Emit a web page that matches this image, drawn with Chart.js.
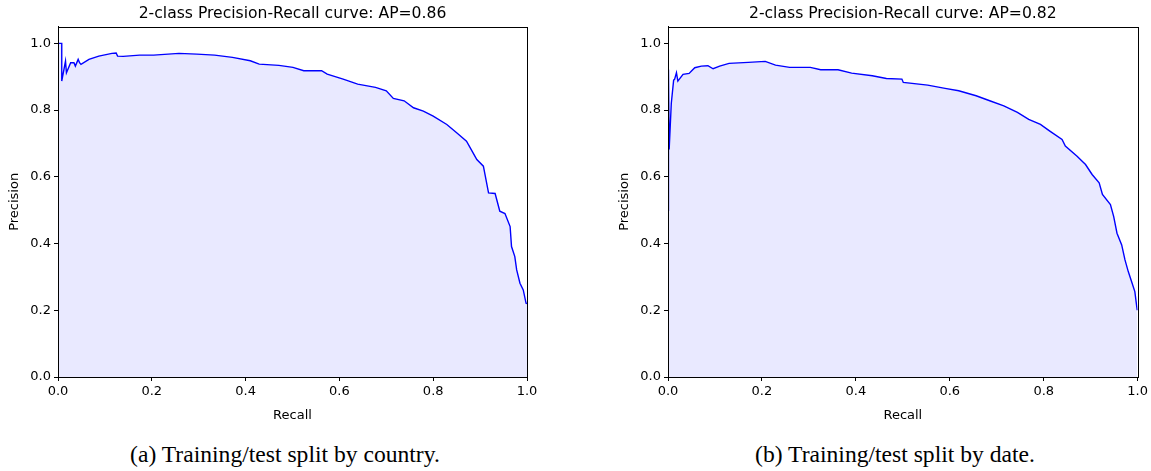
<!DOCTYPE html>
<html>
<head>
<meta charset="utf-8">
<script src="https://cdn.jsdelivr.net/npm/chart.js@4"></script>
<style>
  body { margin: 0; background: #fff; width: 1151px; height: 471px; overflow: hidden; position: relative; }
  canvas { position: absolute; top: 0; }
  .caption { position: absolute; top: 443px; width: 600px; font-family: "Liberation Serif", serif; font-size: 23.6px; line-height: 1; color: #000; text-align: center; white-space: nowrap; }
</style>
</head>
<body>
<canvas id="countryChart" width="575" height="425" style="left:0px"></canvas>
<canvas id="dateChart" width="541" height="425" style="left:610px"></canvas>
<div class="caption" style="left:-15px">(a) Training/test split by country.</div>
<div class="caption" style="left:595px">(b) Training/test split by date.</div>
<script>
// split by country, AP=0.86
const countryRecall = [0, 0.008, 0.008, 0.016, 0.018, 0.027, 0.034, 0.037, 0.043, 0.046, 0.049, 0.066, 0.087, 0.115, 0.124, 0.127, 0.139, 0.174, 0.204, 0.258, 0.296, 0.334, 0.372, 0.41, 0.429, 0.471, 0.501, 0.524, 0.562, 0.574, 0.608, 0.639, 0.677, 0.7, 0.715, 0.738, 0.758, 0.779, 0.8, 0.829, 0.85, 0.871, 0.885, 0.893, 0.907, 0.918, 0.932, 0.942, 0.953, 0.964, 0.967, 0.974, 0.978, 0.985, 0.992, 0.998, 1.0];
const countryPrecision = [1.0, 1.0, 0.887, 0.947, 0.912, 0.942, 0.942, 0.932, 0.952, 0.942, 0.937, 0.952, 0.962, 0.97, 0.971, 0.962, 0.961, 0.965, 0.965, 0.97, 0.968, 0.965, 0.958, 0.948, 0.938, 0.934, 0.928, 0.918, 0.918, 0.908, 0.893, 0.878, 0.868, 0.858, 0.835, 0.828, 0.807, 0.797, 0.782, 0.757, 0.732, 0.707, 0.672, 0.652, 0.632, 0.552, 0.55, 0.497, 0.49, 0.451, 0.391, 0.361, 0.321, 0.281, 0.261, 0.221, 0.22];

// split by date, AP=0.82
const dateRecall = [0, 0.001, 0.0025, 0.007, 0.012, 0.014, 0.018, 0.021, 0.032, 0.045, 0.05, 0.057, 0.071, 0.085, 0.096, 0.11, 0.13, 0.171, 0.207, 0.229, 0.259, 0.303, 0.325, 0.362, 0.391, 0.435, 0.465, 0.498, 0.501, 0.553, 0.59, 0.619, 0.656, 0.685, 0.715, 0.744, 0.768, 0.793, 0.813, 0.839, 0.846, 0.871, 0.889, 0.903, 0.918, 0.925, 0.942, 0.949, 0.956, 0.966, 0.973, 0.98, 0.987, 0.994, 0.999];
const datePrecision = [0.5, 0.922, 0.682, 0.82, 0.89, 0.892, 0.912, 0.887, 0.907, 0.91, 0.917, 0.927, 0.932, 0.933, 0.924, 0.932, 0.94, 0.943, 0.946, 0.935, 0.928, 0.928, 0.921, 0.921, 0.911, 0.903, 0.895, 0.893, 0.883, 0.875, 0.865, 0.858, 0.843, 0.828, 0.813, 0.793, 0.772, 0.757, 0.737, 0.712, 0.692, 0.662, 0.637, 0.607, 0.582, 0.547, 0.517, 0.481, 0.431, 0.396, 0.351, 0.316, 0.286, 0.256, 0.2];

const xTicks = [0, 0.2, 0.4, 0.6, 0.8, 1.0];
const yTicks = [0, 0.2, 0.4, 0.6, 0.8, 1.0];

const font = "DejaVu Sans";

// box around the plot area like matplotlib
const frame = {
  id: "frame",
  afterDraw(chart) {
    const a = chart.chartArea;
    const ctx = chart.ctx;
    ctx.save();
    ctx.strokeStyle = "#000";
    ctx.lineWidth = 1;
    ctx.strokeRect(Math.round(a.left) + 0.5, Math.round(a.top) + 0.5, Math.round(a.right - a.left), Math.round(a.bottom - a.top));
    ctx.restore();
  }
};

function axis(title, ticks, fit, titlePad) {
  return {
    type: "linear",
    afterBuildTicks: (s) => { s.ticks = ticks.map((v) => ({ value: v })); },
    afterFit: fit,
    ticks: {
      callback: (v) => v.toFixed(1),
      font: { family: font, size: 13 },
      color: "#000",
      padding: 3,
      maxRotation: 0
    },
    grid: { drawOnChartArea: false, drawTicks: true, tickLength: 4, color: "#000" },
    border: { color: "#000", width: 1 },
    title: { display: true, text: title, font: { family: font, size: 13 }, color: "#000", padding: titlePad }
  };
}

function makeChart(id, recall, precision, title) {
  const points = recall.map((r, i) => ({ x: r, y: precision[i] }));
  const x = axis("Recall", xTicks, (s) => { s.height = 48; }, { top: 1, bottom: 2 });
  x.min = 0; x.max = 1;
  const y = axis("Precision", yTicks, (s) => { s.width = 58; }, { top: 7, bottom: 2 });
  y.min = 0; y.max = 1.05;
  return new Chart(document.getElementById(id), {
    type: "scatter",
    data: {
      datasets: [{
        data: points,
        showLine: true,
        borderColor: "#0000ff",
        borderWidth: 1.4,
        pointRadius: 0,
        tension: 0,
        fill: "origin",
        backgroundColor: "rgba(0,0,255,0.085)"
      }]
    },
    options: {
      responsive: false,
      animation: false,
      layout: { padding: { right: id === "countryChart" ? 48 : 4 } },
      plugins: {
        legend: { display: false },
        tooltip: { enabled: false },
        title: {
          display: true,
          text: title,
          fullSize: false,
          color: "#000",
          font: { family: font, size: 15.6, weight: "normal" },
          padding: { top: 5, bottom: 3 }
        }
      },
      scales: { x: x, y: y }
    },
    plugins: [frame]
  });
}

makeChart("countryChart", countryRecall, countryPrecision, "2-class Precision-Recall curve: AP=0.86");
makeChart("dateChart", dateRecall, datePrecision, "2-class Precision-Recall curve: AP=0.82");
</script>
</body>
</html>
